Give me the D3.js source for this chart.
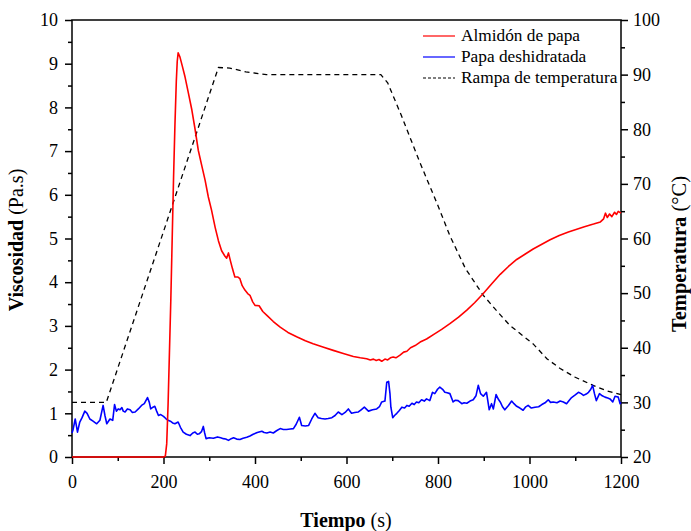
<!DOCTYPE html>
<html>
<head>
<meta charset="utf-8">
<script src="https://cdn.jsdelivr.net/npm/d3@7"></script>
<style>
  body { margin: 0; background: #fff; }
  svg text { font-family: "Liberation Serif", "Times New Roman", Times, serif; fill: #000; }
</style>
</head>
<body>
<svg id="chart" width="691" height="531"></svg>
<script>
// Almidón de papa: [tiempo (s), viscosidad (Pa.s)]
const starch = [
  [0, 0], [100, 0], [200, 0], [204, 0.02], [207, 0.3], [210, 1.2], [213, 2.4], [216, 3.6],
  [219, 5.0], [222, 6.4], [225, 7.6], [228, 8.6], [230, 9.05], [232, 9.25], [236, 9.15],
  [241, 8.95], [247, 8.7], [255, 8.3], [262, 7.94], [269, 7.5], [276, 7.02], [284, 6.65],
  [291, 6.33], [298, 5.95], [305, 5.65], [313, 5.25], [320, 4.95], [327, 4.72], [334, 4.6],
  [338, 4.55], [342, 4.67], [346, 4.5], [351, 4.3], [356, 4.12], [362, 4.12], [367, 4.08],
  [372, 3.92], [378, 3.82], [384, 3.74], [389, 3.7], [395, 3.55], [400, 3.47], [409, 3.46],
  [417, 3.33], [426, 3.24], [440, 3.1], [455, 2.97], [472, 2.85], [491, 2.75], [510, 2.66],
  [527, 2.59], [550, 2.51], [571, 2.44], [593, 2.37], [615, 2.3], [630, 2.27], [644, 2.25],
  [652, 2.22], [659, 2.24], [665, 2.21], [671, 2.23], [677, 2.19], [684, 2.24], [690, 2.22],
  [696, 2.27], [702, 2.29], [708, 2.27], [717, 2.33], [725, 2.4], [732, 2.42], [740, 2.5],
  [750, 2.55], [761, 2.63], [775, 2.7], [790, 2.8], [808, 2.92], [826, 3.05], [845, 3.2],
  [863, 3.36], [880, 3.53], [899, 3.74], [918, 3.97], [936, 4.18], [954, 4.36], [972, 4.52],
  [990, 4.64], [1008, 4.76], [1027, 4.87], [1045, 4.97], [1065, 5.07], [1085, 5.15],
  [1100, 5.2], [1120, 5.27], [1140, 5.33], [1155, 5.38], [1162, 5.45], [1166, 5.58],
  [1170, 5.48], [1175, 5.56], [1180, 5.5], [1186, 5.6], [1190, 5.55], [1194, 5.62], [1200, 5.58]
]

// Papa deshidratada: [tiempo (s), viscosidad (Pa.s)]
const dried = [
  [0, 0.55], [2, 0.61], [7, 0.87], [12, 0.57], [17, 0.8], [22, 0.9], [28, 1.05], [33, 1.0],
  [39, 0.87], [46, 0.82], [54, 0.76], [61, 0.84], [68, 1.18], [72, 0.95], [76, 0.76], [83, 0.87],
  [89, 0.84], [93, 1.2], [97, 1.05], [101, 1.1], [105, 1.08], [109, 1.13], [112, 1.05],
  [116, 1.03], [121, 1.1], [127, 1.08], [132, 1.02], [138, 1.03], [145, 1.1], [152, 1.18],
  [158, 1.22], [165, 1.36], [169, 1.25], [172, 1.1], [177, 1.14], [181, 1.16], [185, 1.05],
  [189, 0.95], [194, 0.97], [200, 0.93], [205, 0.88], [210, 0.84], [215, 0.82], [220, 0.78],
  [225, 0.76], [232, 0.8], [237, 0.68], [243, 0.57], [250, 0.52], [258, 0.49], [264, 0.55],
  [269, 0.57], [274, 0.52], [278, 0.53], [283, 0.58], [287, 0.7], [290, 0.55], [293, 0.42],
  [300, 0.44], [309, 0.43], [318, 0.46], [325, 0.44], [331, 0.42], [336, 0.41], [342, 0.38],
  [348, 0.42], [353, 0.44], [360, 0.41], [367, 0.4], [374, 0.43], [382, 0.45], [389, 0.48],
  [396, 0.52], [405, 0.56], [415, 0.59], [420, 0.56], [426, 0.55], [433, 0.57], [440, 0.55],
  [447, 0.6], [455, 0.65], [462, 0.63], [469, 0.63], [477, 0.64], [484, 0.65], [490, 0.75],
  [497, 0.91], [502, 0.72], [510, 0.71], [517, 0.72], [524, 0.87], [531, 1.0], [538, 0.9],
  [545, 0.88], [553, 0.87], [560, 0.88], [568, 0.9], [575, 0.95], [582, 1.03], [590, 0.97],
  [597, 1.02], [604, 1.1], [611, 1.0], [618, 1.02], [626, 1.03], [632, 1.08], [639, 1.14],
  [648, 1.05], [657, 1.08], [666, 1.1], [672, 1.15], [677, 1.26], [684, 1.28], [688, 1.71],
  [692, 1.73], [695, 1.45], [697, 1.14], [701, 0.9], [705, 0.95], [710, 1.0], [715, 1.06],
  [721, 1.14], [727, 1.12], [732, 1.18], [737, 1.16], [743, 1.23], [748, 1.2], [753, 1.26],
  [758, 1.24], [764, 1.31], [770, 1.28], [775, 1.33], [782, 1.29], [788, 1.48], [793, 1.45],
  [799, 1.55], [804, 1.6], [810, 1.55], [815, 1.48], [820, 1.47], [826, 1.45], [833, 1.26],
  [838, 1.3], [844, 1.29], [852, 1.22], [857, 1.24], [863, 1.23], [870, 1.28], [877, 1.31],
  [883, 1.4], [888, 1.64], [893, 1.45], [899, 1.39], [906, 1.48], [912, 1.08], [917, 1.22],
  [921, 1.1], [927, 1.43], [932, 1.32], [936, 1.26], [941, 1.15], [946, 1.08], [954, 1.18],
  [961, 1.28], [966, 1.22], [972, 1.16], [979, 1.12], [986, 1.07], [991, 1.14], [997, 1.18],
  [1004, 1.12], [1012, 1.14], [1020, 1.15], [1027, 1.2], [1034, 1.24], [1041, 1.31],
  [1046, 1.25], [1052, 1.26], [1060, 1.24], [1067, 1.28], [1074, 1.26], [1081, 1.22],
  [1087, 1.3], [1092, 1.36], [1100, 1.42], [1107, 1.48], [1113, 1.45], [1118, 1.41],
  [1124, 1.44], [1129, 1.48], [1134, 1.55], [1138, 1.64], [1142, 1.45], [1146, 1.29],
  [1150, 1.38], [1153, 1.45], [1159, 1.4], [1165, 1.37], [1171, 1.35], [1176, 1.33],
  [1182, 1.26], [1187, 1.39], [1191, 1.38], [1194, 1.37], [1198, 1.22], [1200, 1.25]
]

// Rampa de temperatura: [tiempo (s), temperatura (°C)]
const ramp = [
  [0, 30], [75, 30], [320, 91.3], [345, 91.2], [380, 90.5], [425, 90], [500, 90], [600, 90],
  [675, 90], [690, 88.5], [700, 86.5], [720, 82.5], [760, 74], [800, 66], [826, 60.5],
  [860, 54.5], [899, 49.6], [930, 46.6], [957, 44.1], [1008, 40.7], [1038, 38], [1067, 36.2],
  [1100, 34.6], [1139, 33.1], [1170, 32.1], [1200, 31.4]
]

const legendLabels = ['Almidón de papa', 'Papa deshidratada', 'Rampa de temperatura']
const xTicks = [0, 200, 400, 600, 800, 1000, 1200]
const viscTicks = d3.range(0, 11, 1)
const tempTicks = d3.range(20, 101, 10)

const L = 72, R = 621, T = 20, B = 457
const svg = d3.select('#chart')

const x = d3.scaleLinear().domain([0, 1200]).range([L, R])
const yV = d3.scaleLinear().domain([0, 10]).range([B, T])
const yT = d3.scaleLinear().domain([20, 100]).range([B, T])
const fmt = d3.format('d')

function styleAxis(g) {
  g.attr('font-family', null)
  g.select('.domain').remove()
  g.selectAll('line').attr('stroke', '#000').attr('stroke-width', 1.5)
  g.selectAll('text').attr('font-size', 18)
}

// minor ticks
svg.append('g').attr('transform', `translate(0,${B})`)
  .call(d3.axisBottom(x).tickValues(d3.range(100, 1200, 200)).tickSize(4).tickFormat(''))
  .call(styleAxis)
svg.append('g').attr('transform', `translate(${L},0)`)
  .call(d3.axisLeft(yV).tickValues(d3.range(0.5, 10, 1)).tickSize(4).tickFormat(''))
  .call(styleAxis)
svg.append('g').attr('transform', `translate(${R},0)`)
  .call(d3.axisRight(yT).tickValues(d3.range(25, 100, 10)).tickSize(4).tickFormat(''))
  .call(styleAxis)

// major ticks
svg.append('g').attr('transform', `translate(0,${B})`)
  .call(d3.axisBottom(x).tickValues(xTicks).tickSize(7).tickPadding(11).tickFormat(fmt))
  .call(styleAxis)
svg.append('g').attr('transform', `translate(${L},0)`)
  .call(d3.axisLeft(yV).tickValues(viscTicks).tickSize(7).tickPadding(7).tickFormat(fmt))
  .call(styleAxis)
svg.append('g').attr('transform', `translate(${R},0)`)
  .call(d3.axisRight(yT).tickValues(tempTicks).tickSize(7).tickPadding(5).tickFormat(fmt))
  .call(styleAxis)

// frame
svg.append('rect').attr('x', L).attr('y', T).attr('width', R - L).attr('height', B - T)
  .attr('fill', 'none').attr('stroke', '#000').attr('stroke-width', 1.5)

const lineV = d3.line().x(d => x(d[0])).y(d => yV(d[1]))
const lineT = d3.line().x(d => x(d[0])).y(d => yT(d[1]))

svg.append('path').datum(ramp).attr('d', lineT)
  .attr('fill', 'none').attr('stroke', '#000').attr('stroke-width', 1.3).attr('stroke-dasharray', '5,4')
svg.append('path').datum(dried).attr('d', lineV)
  .attr('fill', 'none').attr('stroke', '#0000ff').attr('stroke-width', 1.6).attr('stroke-linejoin', 'round')
svg.append('path').datum(starch).attr('d', lineV)
  .attr('fill', 'none').attr('stroke', '#ff0000').attr('stroke-width', 1.6).attr('stroke-linejoin', 'round')

// legend
const legendStyle = [
  { stroke: '#ff0000', dash: null },
  { stroke: '#0000ff', dash: null },
  { stroke: '#000', dash: '3,2' }
]
const legend = svg.append('g')
legendLabels.forEach((label, i) => {
  const yy = 36 + i * 21
  legend.append('line').attr('x1', 423).attr('x2', 455).attr('y1', yy).attr('y2', yy)
    .attr('stroke', legendStyle[i].stroke).attr('stroke-width', 1.2)
    .attr('stroke-dasharray', legendStyle[i].dash)
  legend.append('text').attr('x', 461).attr('y', yy + 5).attr('font-size', 17.3).text(label)
})

// axis titles
svg.append('text').attr('transform', 'translate(23,240) rotate(-90)')
  .attr('text-anchor', 'middle').attr('font-size', 20)
  .call(t => {
    t.append('tspan').attr('font-weight', 'bold').text('Viscosidad')
    t.append('tspan').text(' (Pa.s)')
  })
svg.append('text').attr('transform', 'translate(686,254) rotate(-90)')
  .attr('text-anchor', 'middle').attr('font-size', 20.5)
  .call(t => {
    t.append('tspan').attr('font-weight', 'bold').text('Temperatura')
    t.append('tspan').text(' (°C)')
  })
svg.append('text').attr('x', 346).attr('y', 527)
  .attr('text-anchor', 'middle').attr('font-size', 20)
  .call(t => {
    t.append('tspan').attr('font-weight', 'bold').text('Tiempo')
    t.append('tspan').text(' (s)')
  })
</script>
</body>
</html>
